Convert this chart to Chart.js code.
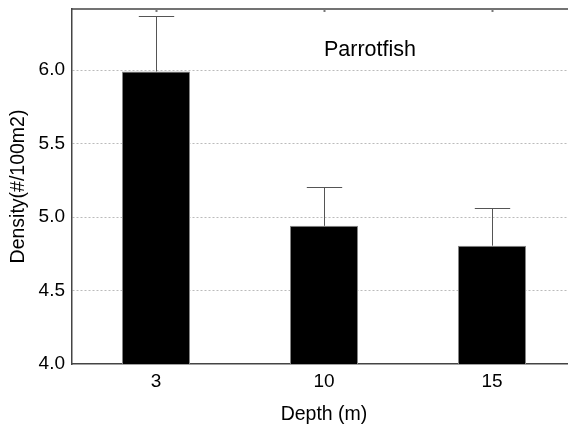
<!DOCTYPE html>
<html>
<head>
<meta charset="utf-8">
<script src="https://cdn.jsdelivr.net/npm/chart.js@4"></script>
<style>
  body { margin: 0; overflow: hidden; background: #fff; }
  #wrap { position: relative; width: 600px; height: 424px; }
</style>
</head>
<body>
<div id="wrap"><canvas id="depth_chart"></canvas></div>
<script>
// data
var depths = ["3", "10", "15"];
var density = [5.99, 4.94, 4.805];
var stdErr = [0.38, 0.265, 0.255];
var yTicks = [4.0, 4.5, 5.0, 5.5, 6.0];
var yMin = 4.0;
var yMax = 6.415;

var fontFamily = "'Liberation Sans', Arial, sans-serif";

// whiskers above each bar
var errorBars = {
  id: "errorBars",
  afterDatasetsDraw: function (chart) {
    var ctx = chart.ctx;
    var yScale = chart.scales.y;
    var meta = chart.getDatasetMeta(0);
    ctx.save();
    ctx.strokeStyle = "#555";
    ctx.lineWidth = 1;
    meta.data.forEach(function (bar, i) {
      var x = Math.round(bar.x) + 0.5;
      var yTop = Math.round(yScale.getPixelForValue(density[i] + stdErr[i])) + 0.5;
      var half = bar.width * 0.26;
      ctx.beginPath();
      ctx.moveTo(x, bar.y);
      ctx.lineTo(x, yTop);
      ctx.moveTo(x - half, yTop);
      ctx.lineTo(x + half, yTop);
      ctx.stroke();
    });
    ctx.restore();
  },
};

// top frame line, inward ticks and the in-plot label
var frame = {
  id: "frame",
  afterDraw: function (chart) {
    var ctx = chart.ctx;
    var area = chart.chartArea;
    var xScale = chart.scales.x;
    ctx.save();
    ctx.strokeStyle = "#444";
    ctx.lineWidth = 1.5;
    ctx.beginPath();
    ctx.moveTo(area.left, area.top);
    ctx.lineTo(area.right, area.top);
    ctx.stroke();
    ctx.lineWidth = 2;
    ctx.strokeStyle = "#777";
    depths.forEach(function (d, i) {
      var x = Math.round(xScale.getPixelForValue(i)) + 0.5;
      ctx.beginPath();
      ctx.moveTo(x, area.top);
      ctx.lineTo(x, area.top + 3);
      ctx.stroke();
    });
    ctx.fillStyle = "#000";
    ctx.font = "21.5px " + fontFamily;
    ctx.textAlign = "center";
    ctx.textBaseline = "middle";
    ctx.fillText("Parrotfish", 370, 50);
    ctx.restore();
  },
};

var canvasElement = document.getElementById("depth_chart");
var config = {
  type: "bar",
  data: {
    labels: depths,
    datasets: [
      {
        label: "Density",
        data: density,
        backgroundColor: "#000",
        borderColor: "#888",
        borderWidth: 1,
        barPercentage: 0.405,
        categoryPercentage: 1.0,
      },
    ],
  },
  options: {
    responsive: true,
    maintainAspectRatio: false,
    animation: false,
    layout: { padding: { top: 9, right: 24, left: 0, bottom: 0 } },
    plugins: {
      legend: { display: false },
      tooltip: { enabled: false },
    },
    scales: {
      x: {
        grid: { display: false, drawTicks: false },
        border: { display: true, color: "#444", width: 1.5 },
        ticks: { color: "#000", padding: 6, font: { size: 19, family: fontFamily } },
        title: {
          display: true,
          text: "Depth (m)",
          color: "#000",
          padding: { top: 0, bottom: 0 },
          font: { size: 19.5, family: fontFamily, lineHeight: 1 },
        },
        afterFit: function (scale) {
          scale.height = 60;
          scale.paddingLeft = 0;
          scale.paddingRight = 0;
        },
      },
      y: {
        min: yMin,
        max: yMax,
        afterBuildTicks: function (scale) {
          scale.ticks = yTicks.map(function (v) {
            return { value: v };
          });
        },
        grid: {
          drawTicks: false,
          color: function (c) {
            return c.tick && c.tick.value === yMin ? "rgba(0,0,0,0)" : "#bbb";
          },
        },
        border: { display: true, color: "#444", width: 1.5, dash: [2, 2] },
        ticks: {
          color: "#000",
          padding: 7,
          font: { size: 19, family: fontFamily },
          callback: function (v) {
            return Number(v).toFixed(1);
          },
        },
        title: {
          display: true,
          text: "Density(#/100m2)",
          color: "#000",
          padding: { top: 7, bottom: 0 },
          font: { size: 19.5, family: fontFamily },
        },
        afterFit: function (scale) {
          scale.width = 72;
          scale.paddingTop = 0;
          scale.paddingBottom = 0;
        },
      },
    },
  },
  plugins: [errorBars, frame],
};

var depth_chart = new Chart(canvasElement, config);
</script>
</body>
</html>
